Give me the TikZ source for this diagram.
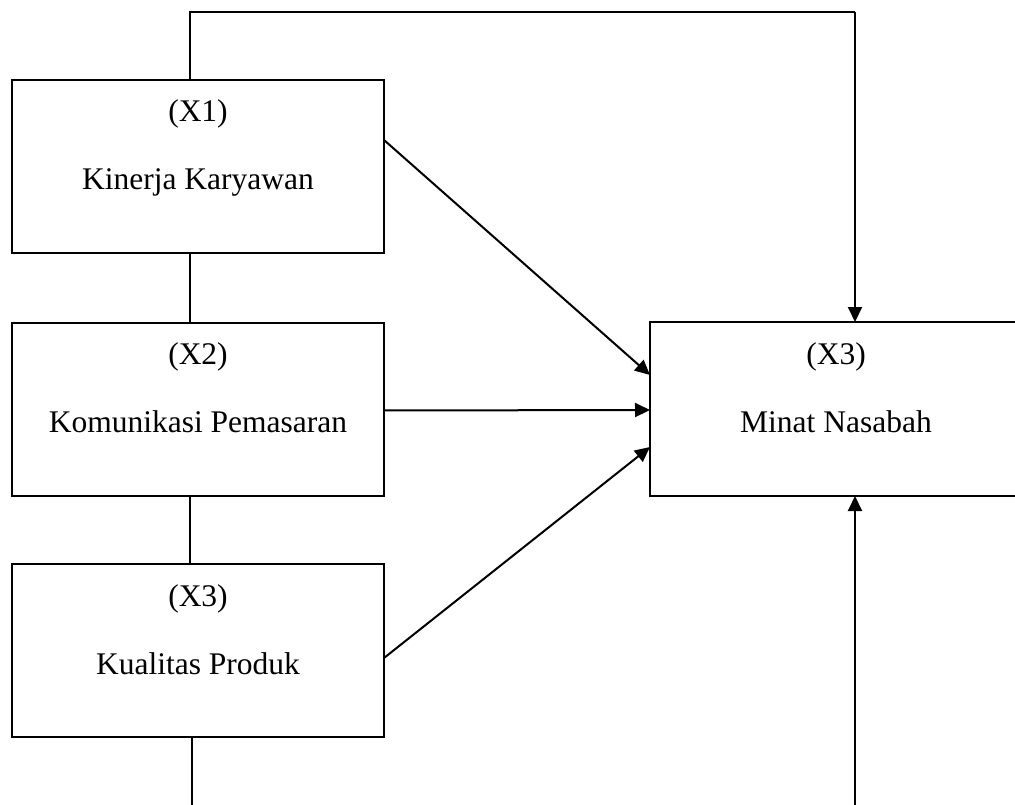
\documentclass[tikz,border=0pt]{standalone}
\usepackage{fontspec}
\setmainfont{Liberation Serif}
\usetikzlibrary{arrows.meta,calc}
\begin{document}
\begin{tikzpicture}[x=1pt,y=-1pt,
  box/.style={draw,line width=2pt,minimum width=372pt,minimum height=173pt,inner sep=0pt,outer sep=0pt},
  lbl/.style={anchor=base,inner sep=0pt,font=\fontsize{31.5}{36}\selectfont},
  conn/.style={line width=2pt},
  arr/.style={line width=2pt,-{Triangle[length=15pt,width=14pt]}}]
\useasboundingbox (0,0) rectangle (1015,805);
\clip (0,0) rectangle (1015,805);
\fill[white] (0,0) rectangle (1015,805);
% boxes
\node[box] (x1) at (198,166.5) {};
\node[box] (x2) at (198,409) {};
\node[box] (x3) at (198,650.5) {};
\node[box,minimum width=372pt,minimum height=174pt] (mn) at (836,409) {};
% labels
\node[lbl] (x1a) at (198,122) {(X1)};
\node[lbl] (x1b) at (198,190) {Kinerja Karyawan};
\node[lbl] (x2a) at (198,364) {(X2)};
\node[lbl] (x2b) at (198,432) {Komunikasi Pemasaran};
\node[lbl] (x3a) at (198,606) {(X3)};
\node[lbl] (x3b) at (198,674) {Kualitas Produk};
\node[lbl] (mna) at (836,364) {(X3)};
\node[lbl] (mnb) at (836,432) {Minat Nasabah};
% helper coordinates
\coordinate (tl) at (190,12);
\coordinate (tr) at (855,12);
\coordinate (bl) at (192,806);
\coordinate (br) at (855,806);
% vertical links between left boxes
\draw[conn] (x1.south -| tl) -- (x2.north -| tl);
\draw[conn] (x2.south -| tl) -- (x3.north -| tl);
\draw[conn] (x3.south -| bl) -- (bl);
% top route
\draw[conn] (x1.north -| tl) -- (tl) -- (tr);
\draw[arr] (tr) -- (tr |- mn.north);
% bottom arrow
\draw[arr] (br) -- (br |- mn.south);
% direct arrows
\draw[arr] ($(x1.north east)+(0,60)$) -- ($(mn.north west)+(0,53)$);
\draw[arr] ($(x2.north east)+(0,88)$) -- ($(mn.north west)+(0,88)$);
\draw[arr] ($(x3.north east)+(0,94)$) -- ($(mn.north west)+(0,125)$);
\end{tikzpicture}
\end{document}
